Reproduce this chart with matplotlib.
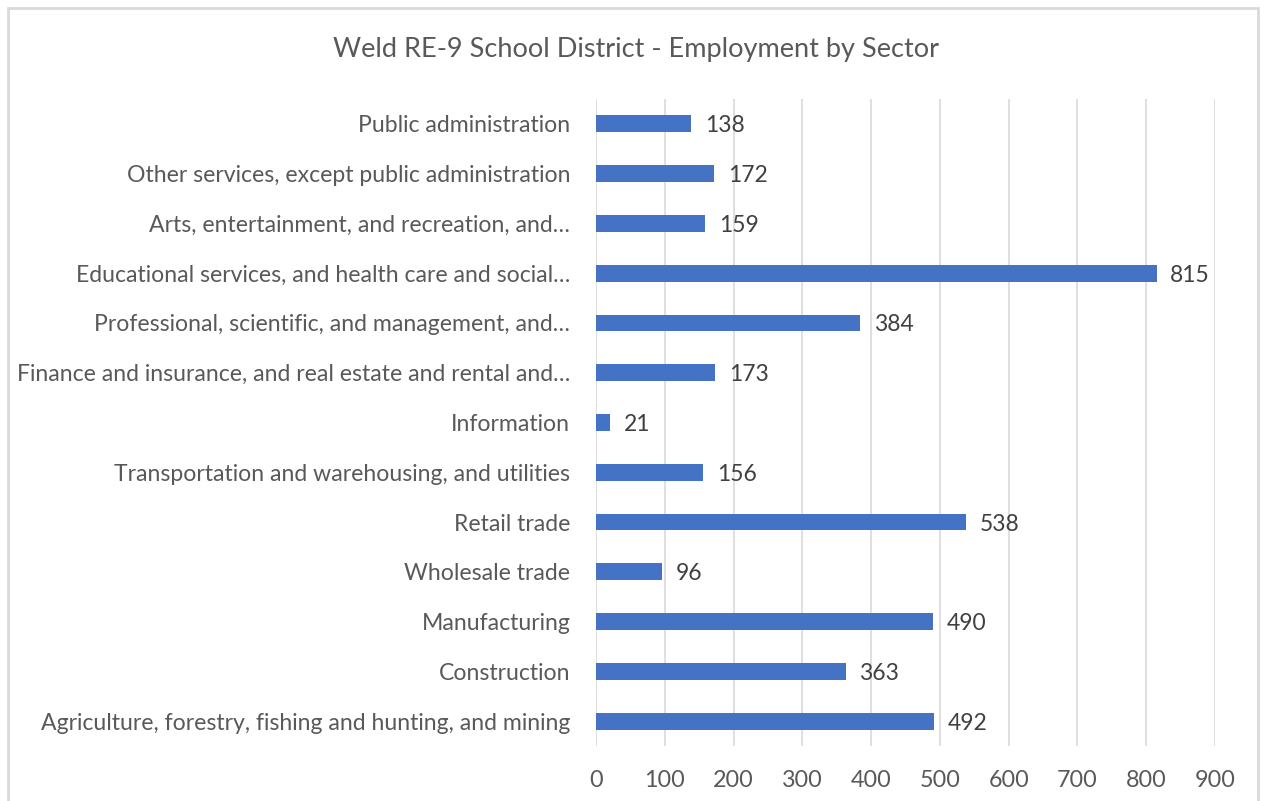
import matplotlib.pyplot as plt
from matplotlib.patches import Rectangle

plt.rcParams['font.family'] = ['Lato', 'DejaVu Sans']

# data, bottom to top as drawn
sectors = [
    "Agriculture, forestry, fishing and hunting, and mining",
    "Construction",
    "Manufacturing",
    "Wholesale trade",
    "Retail trade",
    "Transportation and warehousing, and utilities",
    "Information",
    "Finance and insurance, and real estate and rental and\u2026",
    "Professional, scientific, and management, and\u2026",
    "Educational services, and health care and social\u2026",
    "Arts, entertainment, and recreation, and\u2026",
    "Other services, except public administration",
    "Public administration",
]
employed = [492, 363, 490, 96, 538, 156, 21, 173, 384, 815, 159, 172, 138]
xticks = [0, 100, 200, 300, 400, 500, 600, 700, 800, 900]

BAR = '#4472C4'
TXT = '#595959'
GRID = '#D9D9D9'

fig = plt.figure(figsize=(12.65, 8.01), dpi=100)
fig.patch.set_facecolor('white')

# chart frame
fig.add_artist(Rectangle((8 / 1265, -0.01), 1250 / 1265, 1 - 8 / 801 + 0.01,
                         transform=fig.transFigure, fill=False,
                         edgecolor=GRID, linewidth=2))

ax = fig.add_axes([596 / 1265, 1 - 746 / 801, (1215 - 596) / 1265, (746 - 99) / 801])
ypos = list(range(len(sectors)))
ax.barh(ypos, employed, height=0.34, color=BAR, zorder=3)

for y, v in zip(ypos, employed):
    ax.text(v + 20, y, str(v), va='center_baseline', ha='left', fontsize=16.5, color='#404040')

ax.set_xlim(0, 900)
ax.set_ylim(-0.5, len(sectors) - 0.5)
ax.set_xticks(xticks)
ax.set_xticklabels([str(t) for t in xticks])
ax.set_yticks(ypos)
ax.set_yticklabels(sectors, va='center_baseline')
ax.tick_params(axis='both', length=0, labelcolor=TXT)
ax.tick_params(axis='x', pad=17, labelsize=16.8)
ax.tick_params(axis='y', pad=18.5, labelsize=16.6)
ax.grid(axis='x', color=GRID, linewidth=1.2, zorder=0)
for s in ax.spines.values():
    s.set_visible(False)

fig.text(636 / 1265, 1 - 50 / 801, 'Weld RE-9 School District - Employment by Sector',
         ha='center', va='center', fontsize=19.5, color=TXT)

fig.savefig('out.png', dpi=100)
